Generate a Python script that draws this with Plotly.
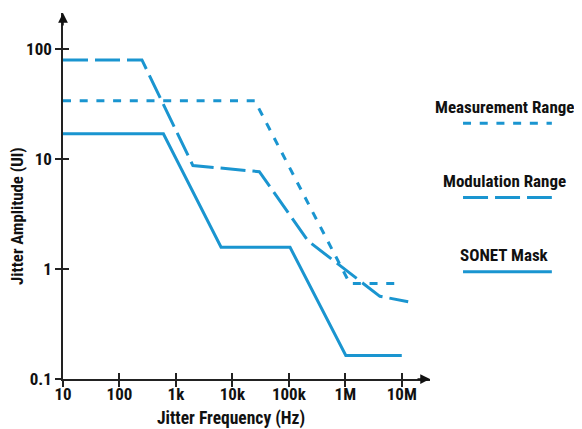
import plotly.graph_objects as go

# ---- data ----
freq_meas = [10, 25000, 1.2e6, 1e7]
amp_meas = [34, 34, 0.74, 0.74]

freq_mod = [10, 250, 2000, 30000, 220000, 4.1e6, 1.3e7]
amp_mod = [80, 80, 8.75, 7.7, 1.8, 0.565, 0.505]

freq_sonet = [10, 600, 6300, 105000, 1.02e6, 1e7]
amp_sonet = [17, 17, 1.58, 1.58, 0.164, 0.164]

x_tickvals = [10, 100, 1e3, 1e4, 1e5, 1e6, 1e7]
x_ticktext = ["10", "100", "1k", "10k", "100k", "1M", "10M"]
y_tickvals = [0.1, 1, 10, 100]
y_ticktext = ["0.1", "1", "10", "100"]

series_names = ["Measurement Range", "Modulation Range", "SONET Mask"]
x_title = "Jitter Frequency (Hz)"
y_title = "Jitter Amplitude (UI)"

BLUE = "#1a95d0"
FAM = "Liberation Sans Narrow, Arial Narrow, Roboto Condensed, sans-serif"
dash_styles = ["8px,8.7px", "25px,7px", "solid"]


def F(size):
    return dict(family=FAM, size=size, color="#111", weight="bold")


fig = go.Figure()
for fx, fy, name, dash in zip([freq_meas, freq_mod, freq_sonet],
                              [amp_meas, amp_mod, amp_sonet],
                              series_names, dash_styles):
    fig.add_trace(go.Scatter(x=fx, y=fy, mode="lines", name=name,
                             line=dict(color=BLUE, width=3, dash=dash),
                             showlegend=False, hoverinfo="skip"))

XR = [1, 7.5]
YR = [-1, 2.33]

axis_common = dict(showgrid=False, zeroline=False, showline=True,
                   linecolor="#222", linewidth=1.5, ticklen=6,
                   tickwidth=1.5, tickcolor="#222", automargin=False)

# the page body has an 8px default margin, so the figure is sized to fit the window
fig.update_layout(
    width=574, height=421,
    margin=dict(l=55, r=152, t=5, b=50),
    paper_bgcolor="white", plot_bgcolor="white",
    font=F(17),
    xaxis=dict(type="log", range=XR, tickvals=x_tickvals, ticktext=x_ticktext,
               ticks="outside", tickfont=F(17), ticklabelstandoff=-7,
               **axis_common),
    yaxis=dict(type="log", range=YR, tickvals=y_tickvals, ticktext=y_ticktext,
               ticks="outside", tickfont=F(17), **axis_common),
    xaxis2=dict(type="log", range=XR, tickvals=x_tickvals, showticklabels=False,
                ticks="inside", overlaying="x", anchor="y", side="bottom",
                **axis_common),
    yaxis2=dict(type="log", range=YR, tickvals=y_tickvals, showticklabels=False,
                ticks="inside", overlaying="y", anchor="x", side="left",
                **axis_common),
)
# invisible trace to activate the overlay axes
fig.add_trace(go.Scatter(x=[10], y=[1], xaxis="x2", yaxis="y2", mode="markers",
                         marker=dict(opacity=0), showlegend=False, hoverinfo="skip"))

# axis titles
fig.add_annotation(x=0.459, y=-0.108, xref="paper", yref="paper", text=x_title,
                   showarrow=False, xanchor="center", yanchor="middle", font=F(17.5))
fig.add_annotation(x=-0.125, y=0.446, xref="paper", yref="paper", text=y_title,
                   showarrow=False, xanchor="center", yanchor="middle",
                   textangle=-90, font=F(16.8))

# axis arrowheads
fig.add_annotation(x=1, y=0, xref="paper", yref="paper", ax=-14, ay=0,
                   showarrow=True, arrowhead=2, arrowsize=1.3, arrowwidth=1.5,
                   arrowcolor="#111", text="")
fig.add_annotation(x=0, y=1, xref="paper", yref="paper", ax=0, ay=14,
                   showarrow=True, arrowhead=2, arrowsize=1.3, arrowwidth=1.5,
                   arrowcolor="#111", text="")

# custom legend: text centered above a line sample
legend_text_y = [0.744, 0.541, 0.339]
legend_line_y = [0.699, 0.496, 0.293]
for name, dash, ty, ly in zip(series_names, dash_styles, legend_text_y, legend_line_y):
    fig.add_annotation(x=1.203, y=ty, xref="paper", yref="paper", text=name,
                       showarrow=False, xanchor="center", yanchor="middle",
                       font=F(17))
    fig.add_shape(type="line", xref="paper", yref="paper",
                  x0=1.09, x1=1.332, y0=ly, y1=ly,
                  line=dict(color=BLUE, width=3, dash=dash))

fig.write_html("out.html")
